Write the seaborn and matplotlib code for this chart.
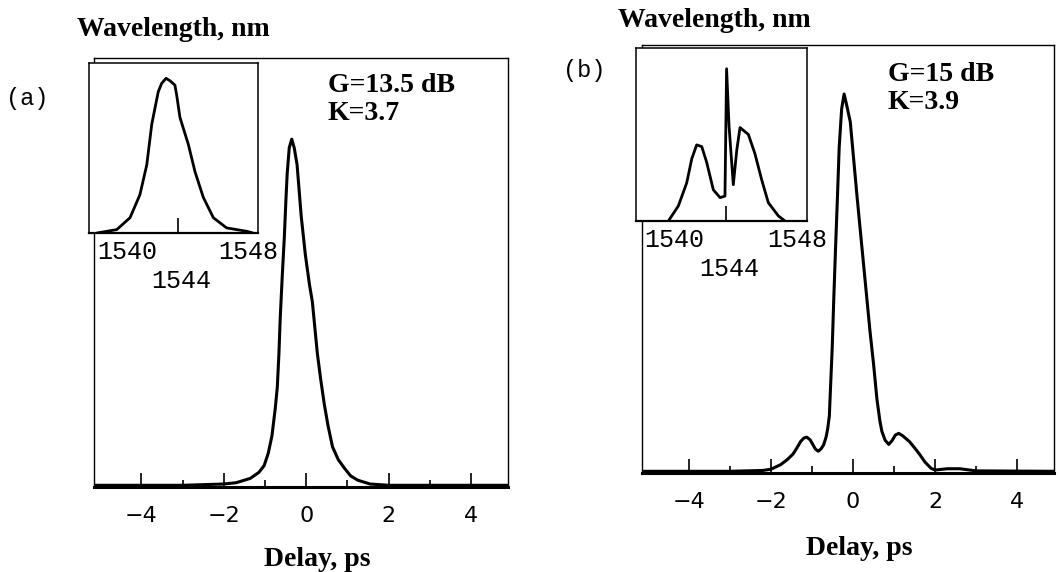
import matplotlib
matplotlib.use("Agg")
import matplotlib.pyplot as plt
import matplotlib.transforms as mtransforms
import seaborn as sns

# Panel (a): autocorrelation trace vs delay (ps), normalised height
delay_a = [-5.15, -3.0, -2.0, -1.7, -1.36, -1.15, -1.02, -0.92, -0.83, -0.75,
           -0.70, -0.66, -0.63, -0.58, -0.53, -0.49, -0.46, -0.41, -0.35, -0.29,
           -0.22, -0.12, -0.02, 0.08, 0.15, 0.21, 0.27, 0.35, 0.44, 0.53,
           0.64, 0.78, 0.93, 1.08, 1.25, 1.55, 2.0, 4.9]
signal_a = [0.0, 0.0, 0.003, 0.006, 0.016, 0.03, 0.046, 0.075, 0.116, 0.18,
            0.23, 0.31, 0.39, 0.49, 0.58, 0.67, 0.73, 0.79, 0.81, 0.79,
            0.75, 0.63, 0.54, 0.47, 0.43, 0.37, 0.31, 0.25, 0.19, 0.14,
            0.09, 0.06, 0.04, 0.022, 0.012, 0.003, 0.0, 0.0]

# Panel (a) inset: spectrum vs wavelength (nm)
wl_a = [1540.0, 1540.98, 1541.64, 1542.13, 1542.47, 1542.72, 1543.04, 1543.21,
        1543.43, 1543.63, 1543.87, 1543.96, 1544.12, 1544.54, 1544.87, 1545.28,
        1545.78, 1546.44, 1547.44, 1547.75]
spec_a = [0.0, 0.02, 0.09, 0.225, 0.4, 0.64, 0.83, 0.88,
          0.91, 0.895, 0.87, 0.81, 0.68, 0.52, 0.36, 0.21,
          0.09, 0.03, 0.01, 0.0]

# Panel (b): autocorrelation trace with side lobes
delay_b = [-5.15, -3.0, -2.2, -2.0, -1.76, -1.6, -1.47, -1.37, -1.28, -1.2,
           -1.13, -1.05, -0.99, -0.92, -0.85, -0.78, -0.72, -0.66, -0.62, -0.58,
           -0.55, -0.51, -0.47, -0.43, -0.38, -0.34, -0.28, -0.22, -0.16, -0.07,
           0.1, 0.26, 0.41, 0.5, 0.58, 0.65, 0.70, 0.78, 0.87, 0.95,
           1.03, 1.11, 1.2, 1.37, 1.5, 1.62, 1.75, 1.9, 2.0, 2.3,
           2.6, 3.0, 4.9]
signal_b = [0.0, 0.0, 0.002, 0.005, 0.016, 0.028, 0.04, 0.055, 0.07, 0.078,
            0.08, 0.074, 0.064, 0.052, 0.047, 0.053, 0.062, 0.08, 0.1, 0.13,
            0.2, 0.29, 0.41, 0.52, 0.65, 0.76, 0.85, 0.885, 0.86, 0.82,
            0.64, 0.48, 0.33, 0.25, 0.17, 0.12, 0.094, 0.073, 0.063, 0.072,
            0.085, 0.089, 0.084, 0.07, 0.055, 0.04, 0.022, 0.007, 0.003, 0.006,
            0.006, 0.001, 0.0]

# Panel (b) inset: split spectrum with narrow spike
wl_b = [1541.19, 1541.68, 1542.09, 1542.34, 1542.58, 1542.83, 1543.07, 1543.4,
        1543.73, 1543.97, 1544.05, 1544.17, 1544.38, 1544.55, 1544.71, 1545.12,
        1545.44, 1545.77, 1546.1, 1546.59, 1546.92]
spec_b = [0.0, 0.087, 0.22, 0.36, 0.44, 0.43, 0.34, 0.18,
          0.135, 0.144, 0.88, 0.55, 0.21, 0.41, 0.54, 0.5,
          0.39, 0.24, 0.106, 0.03, 0.0]

delay_ticks = [-4, -2, 0, 2, 4]
delay_minor = [-3, -1, 1, 3]
wl_ticks = [1540, 1544, 1548]
wl_labels = ["1540", "1544", "1548"]

panels = [
    {"tag": "(a)", "delay": delay_a, "signal": signal_a, "wl": wl_a, "spec": spec_a,
     "note": "G=13.5 dB\nK=3.7",
     "main": [94, 508, 58, 487], "inset": [89, 258, 63, 233],
     "tag_xy": (27, 98), "wl_label": (0.5, 1.195), "delay_label": (0.54, -0.14),
     "note_xy": (0.565, 0.965)},
    {"tag": "(b)", "delay": delay_b, "signal": signal_b, "wl": wl_b, "spec": spec_b,
     "note": "G=15 dB\nK=3.9",
     "main": [642, 1054, 45, 473], "inset": [636, 807, 48, 221],
     "tag_xy": (584, 70), "wl_label": (0.46, 1.16), "delay_label": (0.527, -0.147),
     "note_xy": (0.597, 0.96)},
]

sns.set_theme(style="white")
W, H = 1060, 572
fig = plt.figure(figsize=(W / 100, H / 100), dpi=100)

serif = "Liberation Serif"
mono = "Liberation Mono"


def frac_rect(box):
    left, right, top, bottom = box
    return [left / W, 1 - bottom / H, (right - left) / W, (bottom - top) / H]


for p in panels:
    ax = fig.add_axes(frac_rect(p["main"]))
    sns.lineplot(x=p["delay"], y=p["signal"], ax=ax, color="black",
                 linewidth=2.2, estimator=None, sort=False)
    ax.set_xlim(-5.15, 4.9)
    ax.set_ylim(-0.004, 1.0)
    ax.set_yticks([])
    ax.set_xticks(delay_ticks)
    ax.set_xticks(delay_minor, minor=True)
    ax.tick_params(axis="x", which="major", bottom=True, direction="in",
                   length=10, width=1.2, color="black", pad=14,
                   labelsize=16, labelfontfamily="DejaVu Sans", labelcolor="black")
    ax.tick_params(axis="x", which="minor", bottom=True, direction="in",
                   length=5, width=1.2, color="black")
    for side, sp in ax.spines.items():
        sp.set_color("black")
        sp.set_linewidth(2.2 if side == "bottom" else 1.0)
    ax.set_xlabel("Delay, ps", fontsize=20, fontweight="bold", family=serif,
                  color="black")
    ax.xaxis.set_label_coords(*p["delay_label"])
    ax.text(p["note_xy"][0], p["note_xy"][1], p["note"], transform=ax.transAxes,
            ha="left", va="top", fontsize=20, fontweight="bold", family=serif,
            linespacing=1.15, color="black")

    # inset spectrum
    ins = fig.add_axes(frac_rect(p["inset"]), zorder=3)
    ins.set_facecolor("white")
    sns.lineplot(x=p["wl"], y=p["spec"], ax=ins, color="black",
                 linewidth=2.0, estimator=None, sort=False)
    ins.set_xlim(1539.6, 1548.0)
    ins.set_ylim(0, 1.0)
    ins.set_yticks([])
    ins.set_xticks(wl_ticks)
    ins.set_xticklabels(wl_labels)
    ins.tick_params(axis="x", bottom=True, direction="in", length=11, width=1.2,
                    color="black", pad=5, labelsize=18, labelfontfamily=mono,
                    labelcolor="black")
    ticks = ins.xaxis.get_major_ticks()
    ticks[0].tick1line.set_visible(False)
    ticks[2].tick1line.set_visible(False)
    labels = ins.get_xticklabels()
    labels[0].set_ha("left")
    labels[1].set_transform(labels[1].get_transform()
                            + mtransforms.ScaledTranslation(0.04, -0.29, fig.dpi_scale_trans))
    labels[2].set_transform(labels[2].get_transform()
                            + mtransforms.ScaledTranslation(-0.10, 0, fig.dpi_scale_trans))
    for side, sp in ins.spines.items():
        sp.set_color("black")
        sp.set_linewidth(1.6 if side == "bottom" else 1.1)
    ins.set_xlabel("Wavelength, nm", fontsize=20, fontweight="bold", family=serif,
                   color="black")
    ins.xaxis.set_label_coords(*p["wl_label"])
    ins.xaxis.label.set_va("center")

    fig.text(p["tag_xy"][0] / W, 1 - p["tag_xy"][1] / H, p["tag"], ha="center",
             va="center", fontsize=17, family=mono, color="black")

fig.savefig("out.png", dpi=100)
